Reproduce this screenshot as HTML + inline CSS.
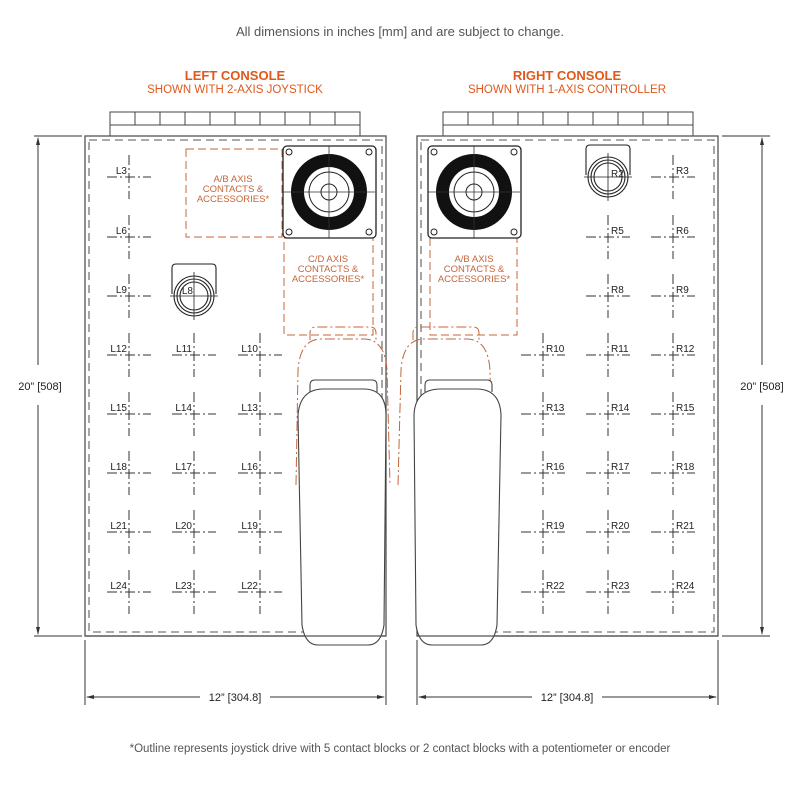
<!DOCTYPE html>
<html><head><meta charset="utf-8"><style>
html,body{margin:0;padding:0;background:#fff;width:800px;height:800px;overflow:hidden}
svg{display:block}
text{font-family:"Liberation Sans",sans-serif}
</style></head><body>
<svg width="800" height="800" viewBox="0 0 800 800" xmlns="http://www.w3.org/2000/svg">
<defs>
<g id="ch" stroke="#333" stroke-width="1" fill="none">
<line x1="-22" y1="0" x2="22" y2="0" stroke-dasharray="10,3,2,3"/>
<line x1="0" y1="-22" x2="0" y2="22" stroke-dasharray="10,3,2,3"/>
</g>
<g id="joy">
<rect x="-46" y="-46" width="93" height="92" rx="4" fill="#fff" stroke="#222" stroke-width="1.3"/>
<circle cx="-40" cy="-40" r="3" fill="none" stroke="#222"/><circle cx="40" cy="-40" r="3" fill="none" stroke="#222"/>
<circle cx="-40" cy="40" r="3" fill="none" stroke="#222"/><circle cx="40" cy="40" r="3" fill="none" stroke="#222"/>
<circle r="38" fill="#111"/><circle r="25" fill="#fff"/>
<circle r="20" fill="none" stroke="#222"/><circle r="8" fill="none" stroke="#222"/>
<line x1="-46" y1="0" x2="46" y2="0" stroke="#333" stroke-width="0.8"/>
<line x1="0" y1="-46" x2="0" y2="46" stroke="#333" stroke-width="0.8"/>
</g>
<g id="knob" fill="none" stroke="#222" stroke-width="1.1">
<path d="M-22,-2 V-28 Q-22,-32 -18,-32 H18 Q22,-32 22,-28 V-2" fill="#fff"/>
<circle r="20" fill="#fff"/><circle r="17"/><circle r="14"/>
<line x1="-24" y1="0" x2="24" y2="0" stroke-width="0.8"/><line x1="0" y1="-24" x2="0" y2="24" stroke-width="0.8"/>
</g>
<g id="strip" fill="#fff" stroke="#444" stroke-width="1">
<rect x="0" y="0" width="250" height="24"/><line x1="0" y1="13" x2="250" y2="13"/>
<line x1="25" y1="0" x2="25" y2="13"/><line x1="50" y1="0" x2="50" y2="13"/><line x1="75" y1="0" x2="75" y2="13"/><line x1="100" y1="0" x2="100" y2="13"/><line x1="125" y1="0" x2="125" y2="13"/><line x1="150" y1="0" x2="150" y2="13"/><line x1="175" y1="0" x2="175" y2="13"/><line x1="200" y1="0" x2="200" y2="13"/><line x1="225" y1="0" x2="225" y2="13"/>
</g>
<g id="handle">
<path d="M12,0 H80 Q84,0 84,4 V-? " fill="none"/>
</g>
</defs>

<text x="400" y="36" font-size="13" fill="#555" text-anchor="middle">All dimensions in inches [mm] and are subject to change.</text>
<text x="235" y="80" font-size="13" font-weight="bold" fill="#e0581b" text-anchor="middle">LEFT CONSOLE</text>
<text x="235" y="93" font-size="11.5" fill="#e0581b" text-anchor="middle">SHOWN WITH 2-AXIS JOYSTICK</text>
<text x="567" y="80" font-size="13" font-weight="bold" fill="#e0581b" text-anchor="middle">RIGHT CONSOLE</text>
<text x="567" y="93" font-size="11.5" fill="#e0581b" text-anchor="middle">SHOWN WITH 1-AXIS CONTROLLER</text>

<use href="#strip" x="110" y="112"/>
<use href="#strip" x="443" y="112"/>

<!-- consoles -->
<rect x="85" y="136" width="301" height="500" fill="#fff" stroke="#555" stroke-width="1.3"/>
<rect x="89" y="140" width="293" height="492" fill="none" stroke="#777" stroke-width="1.3" stroke-dasharray="8,5"/>
<rect x="417" y="136" width="301" height="500" fill="#fff" stroke="#555" stroke-width="1.3"/>
<rect x="421" y="140" width="293" height="492" fill="none" stroke="#777" stroke-width="1.3" stroke-dasharray="8,5"/>

<!-- orange boxes -->
<g fill="none" stroke="#c4653a" stroke-width="1" stroke-dasharray="8,4">
<rect x="186" y="149" width="96" height="88"/>
<rect x="284" y="238" width="89" height="97"/>
<rect x="430" y="238" width="87" height="97"/>
</g>
<g font-size="9.5" fill="#c4653a" text-anchor="middle">
<text x="233" y="182">A/B  AXIS</text><text x="233" y="192">CONTACTS  &amp;</text><text x="233" y="202">ACCESSORIES*</text>
<text x="328" y="262">C/D  AXIS</text><text x="328" y="272">CONTACTS  &amp;</text><text x="328" y="282">ACCESSORIES*</text>
<text x="474" y="262">A/B  AXIS</text><text x="474" y="272">CONTACTS  &amp;</text><text x="474" y="282">ACCESSORIES*</text>
</g>

<use href="#joy" x="329" y="192"/>
<use href="#joy" x="474" y="192"/>
<use href="#knob" x="194" y="296"/>
<use href="#knob" x="608" y="177"/>

<!-- handles -->
<g fill="none">
<path d="M310,340 V333 Q310,327 316,327 H370 Q376,327 376,333 V340" stroke="#c4653a" stroke-dasharray="10,3,2,3"/>
<path d="M296,485 L298,370 Q300,340 320,339 H365 Q385,340 387,370 L390,485" stroke="#c4653a" stroke-dasharray="10,3,2,3"/>
<path d="M310,392 V385 Q310,380 315,380 H372 Q377,380 377,385 V392" stroke="#444" stroke-width="1.1" fill="#fff"/>
<path d="M322,389 H365 Q386,390 386,415 L384,625 Q381,645 368,645 H318 Q305,645 302,625 L298,415 Q300,390 322,389 Z" stroke="#444" stroke-width="1.1" fill="#fff"/>
<path d="M413,340 V333 Q413,327 419,327 H473 Q479,327 479,333 V340" stroke="#c4653a" stroke-dasharray="10,3,2,3"/>
<path d="M398,485 L401,370 Q403,340 423,339 H468 Q488,340 490,370 L492,485" stroke="#c4653a" stroke-dasharray="10,3,2,3"/>
<path d="M425,392 V385 Q425,380 430,380 H487 Q492,380 492,385 V392" stroke="#444" stroke-width="1.1" fill="#fff"/>
<path d="M439,389 H478 Q500,390 501,415 L497,625 Q494,645 481,645 H432 Q419,645 416,625 L414,415 Q415,390 439,389 Z" stroke="#444" stroke-width="1.1" fill="#fff"/>
</g>
<line x1="85" y1="636" x2="386" y2="636" stroke="#555" stroke-width="1.3"/>
<line x1="417" y1="636" x2="718" y2="636" stroke="#555" stroke-width="1.3"/>

<!-- crosshairs left -->
<use href="#ch" x="129" y="177"/><use href="#ch" x="129" y="237"/><use href="#ch" x="129" y="296"/>
<use href="#ch" x="129" y="355"/><use href="#ch" x="194" y="355"/><use href="#ch" x="260" y="355"/>
<use href="#ch" x="129" y="414"/><use href="#ch" x="194" y="414"/><use href="#ch" x="260" y="414"/>
<use href="#ch" x="129" y="473"/><use href="#ch" x="194" y="473"/><use href="#ch" x="260" y="473"/>
<use href="#ch" x="129" y="532"/><use href="#ch" x="194" y="532"/><use href="#ch" x="260" y="532"/>
<use href="#ch" x="129" y="592"/><use href="#ch" x="194" y="592"/><use href="#ch" x="260" y="592"/>
<!-- crosshairs right -->
<use href="#ch" x="673" y="177"/>
<use href="#ch" x="608" y="237"/><use href="#ch" x="673" y="237"/>
<use href="#ch" x="608" y="296"/><use href="#ch" x="673" y="296"/>
<use href="#ch" x="543" y="355"/><use href="#ch" x="608" y="355"/><use href="#ch" x="673" y="355"/>
<use href="#ch" x="543" y="414"/><use href="#ch" x="608" y="414"/><use href="#ch" x="673" y="414"/>
<use href="#ch" x="543" y="473"/><use href="#ch" x="608" y="473"/><use href="#ch" x="673" y="473"/>
<use href="#ch" x="543" y="532"/><use href="#ch" x="608" y="532"/><use href="#ch" x="673" y="532"/>
<use href="#ch" x="543" y="592"/><use href="#ch" x="608" y="592"/><use href="#ch" x="673" y="592"/>

<g font-size="10" fill="#222" text-anchor="end">
<text x="127" y="174">L3</text><text x="127" y="234">L6</text><text x="127" y="293">L9</text>
<text x="127" y="352">L12</text><text x="192" y="352">L11</text><text x="258" y="352">L10</text>
<text x="127" y="411">L15</text><text x="192" y="411">L14</text><text x="258" y="411">L13</text>
<text x="127" y="470">L18</text><text x="192" y="470">L17</text><text x="258" y="470">L16</text>
<text x="127" y="529">L21</text><text x="192" y="529">L20</text><text x="258" y="529">L19</text>
<text x="127" y="589">L24</text><text x="192" y="589">L23</text><text x="258" y="589">L22</text>
<text x="193" y="294">L8</text>
</g>
<g font-size="10" fill="#222" text-anchor="start">
<text x="611" y="177">R2</text>
<text x="676" y="174">R3</text>
<text x="611" y="234">R5</text><text x="676" y="234">R6</text>
<text x="611" y="293">R8</text><text x="676" y="293">R9</text>
<text x="546" y="352">R10</text><text x="611" y="352">R11</text><text x="676" y="352">R12</text>
<text x="546" y="411">R13</text><text x="611" y="411">R14</text><text x="676" y="411">R15</text>
<text x="546" y="470">R16</text><text x="611" y="470">R17</text><text x="676" y="470">R18</text>
<text x="546" y="529">R19</text><text x="611" y="529">R20</text><text x="676" y="529">R21</text>
<text x="546" y="589">R22</text><text x="611" y="589">R23</text><text x="676" y="589">R24</text>
</g>

<!-- dimensions -->
<g stroke="#333" stroke-width="1" fill="none">
<line x1="34" y1="136" x2="82" y2="136"/><line x1="34" y1="636" x2="82" y2="636"/>
<line x1="38" y1="138" x2="38" y2="365"/><line x1="38" y1="405" x2="38" y2="634"/>
<line x1="722" y1="136" x2="770" y2="136"/><line x1="722" y1="636" x2="770" y2="636"/>
<line x1="762" y1="138" x2="762" y2="365"/><line x1="762" y1="405" x2="762" y2="634"/>
<line x1="85" y1="640" x2="85" y2="705"/><line x1="386" y1="640" x2="386" y2="705"/>
<line x1="87" y1="697" x2="200" y2="697"/><line x1="270" y1="697" x2="384" y2="697"/>
<line x1="417" y1="640" x2="417" y2="705"/><line x1="718" y1="640" x2="718" y2="705"/>
<line x1="419" y1="697" x2="532" y2="697"/><line x1="602" y1="697" x2="716" y2="697"/>
</g>
<g fill="#333">
<path d="M38,137 l-2,8 h4z"/><path d="M38,635 l-2,-8 h4z"/>
<path d="M762,137 l-2,8 h4z"/><path d="M762,635 l-2,-8 h4z"/>
<path d="M86,697 l8,-2 v4z"/><path d="M385,697 l-8,-2 v4z"/>
<path d="M418,697 l8,-2 v4z"/><path d="M717,697 l-8,-2 v4z"/>
</g>
<g font-size="11" fill="#222" text-anchor="middle">
<text x="40" y="390">20” [508]</text>
<text x="762" y="390">20” [508]</text>
<text x="235" y="701">12” [304.8]</text>
<text x="567" y="701">12” [304.8]</text>
</g>
<text x="400" y="752" font-size="11.5" fill="#555" text-anchor="middle">*Outline represents joystick drive with 5 contact blocks or 2 contact blocks with a potentiometer or encoder</text>
</svg>
</body></html>
